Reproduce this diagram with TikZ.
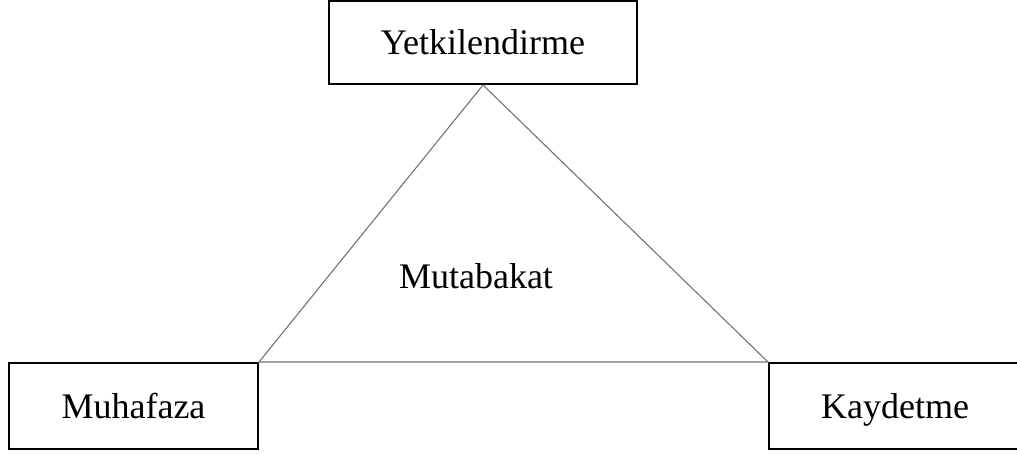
\documentclass[tikz,border=0pt]{standalone}
\usepackage{fontspec}
\setmainfont{Liberation Serif}
\begin{document}
\begin{tikzpicture}[x=1pt,y=-1pt,
  box/.style={draw=black,line width=2pt,inner sep=0pt,
    text height=24pt,text depth=0pt,
    font=\fontsize{36}{43}\selectfont},
  edge/.style={draw=black!55,line width=1.1pt}]
\useasboundingbox (0,0) rectangle (1017,454);
\clip (0,0) rectangle (1017,454);
% three stations of the cycle
\node[box,minimum width=308pt,minimum height=83pt] (yet) at (483,42.5) {Yetkilendirme};
\node[box,minimum width=249pt,minimum height=86pt] (muh) at (133.5,406) {Muhafaza};
\node[box,minimum width=252pt,minimum height=86pt] (kay) at (895,406) {Kaydetme};
% triangle joining them
\draw[edge] (yet.south) -- (muh.north east) -- (kay.north west) -- cycle;
\node[font=\fontsize{36}{43}\selectfont,inner sep=0pt,text height=24pt,text depth=0pt] (mut) at (476,277) {Mutabakat};
\end{tikzpicture}
\end{document}
